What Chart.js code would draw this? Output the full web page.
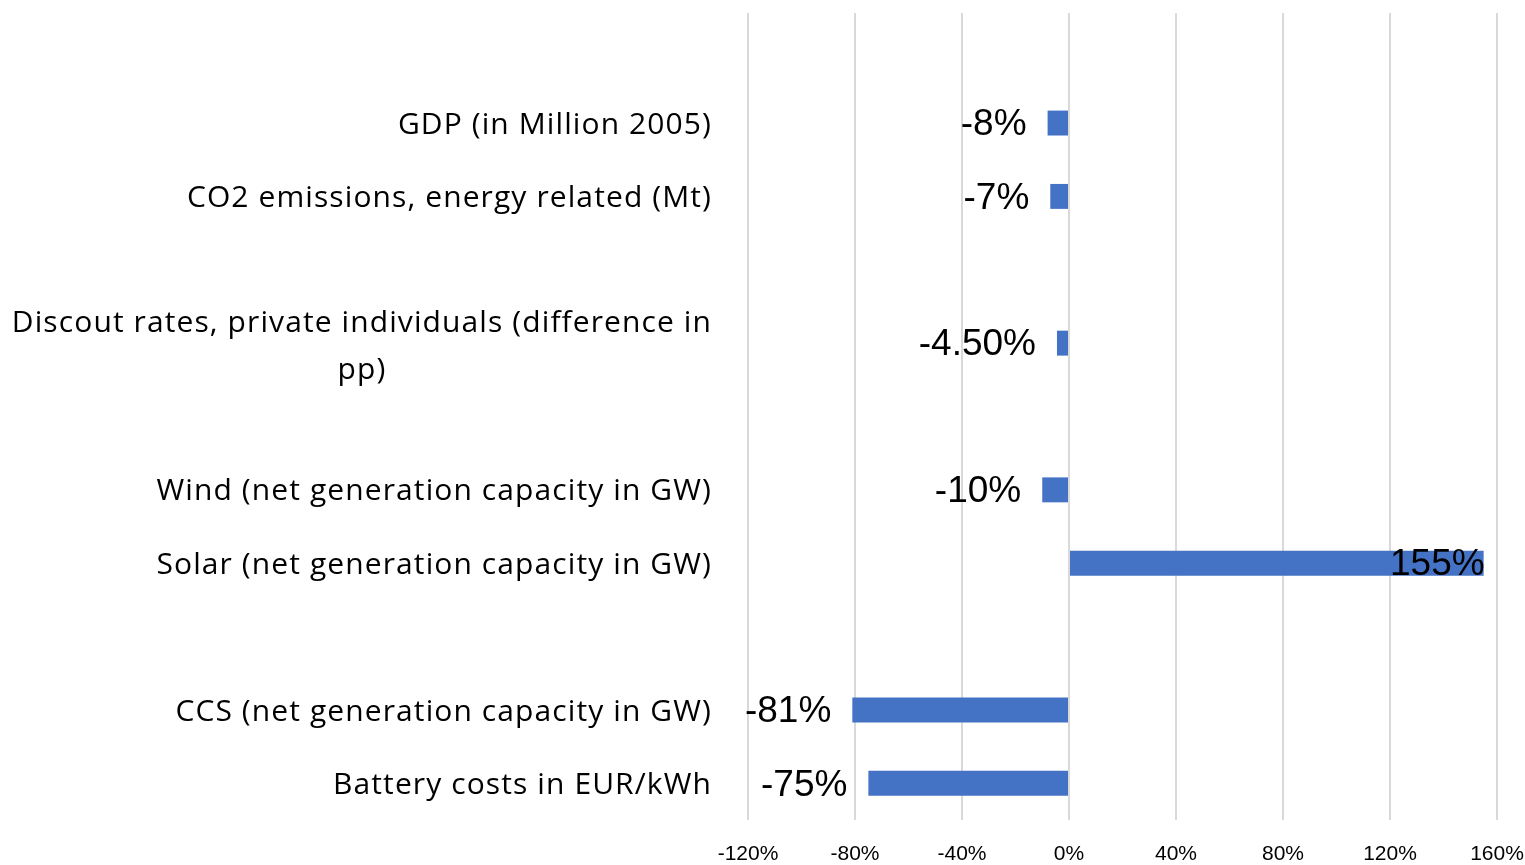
<!DOCTYPE html>
<html>
<head>
<meta charset="utf-8">
<script src="https://cdn.jsdelivr.net/npm/chart.js@4/dist/chart.umd.min.js"></script>
<style>
  html, body { margin: 0; padding: 0; background: #fff; }
  #wrap { width: 1525px; height: 865px; position: relative; }
</style>
</head>
<body>
<div id="wrap"><canvas id="myChart"></canvas></div>
<script>
// categories, top to bottom (blank entries are the gaps in the original)
var categories = [
    '',
    'GDP (in Million 2005)',
    'CO2 emissions, energy related (Mt)',
    '',
    ['Discout rates, private individuals (difference in', 'pp)'],
    '',
    'Wind (net generation capacity in GW)',
    'Solar (net generation capacity in GW)',
    '',
    'CCS (net generation capacity in GW)',
    'Battery costs in EUR/kWh'
];
var changes = [null, -8, -7, null, -4.5, null, -10, 155, null, -81, -75];
var valueLabels = ['', '-8%', '-7%', '', '-4.50%', '', '-10%', '155%', '', '-81%', '-75%'];
var tickValues = [-120, -80, -40, 0, 40, 80, 120, 160];

var labelPlugin = {
    id: 'labelPlugin',
    afterDatasetsDraw: function (chart) {
        var ctx = chart.ctx;
        var yScale = chart.scales.y;
        var area = chart.chartArea;
        ctx.save();
        // category labels
        ctx.fillStyle = '#000';
        ctx.font = '30px "Open Sans"';
        ctx.letterSpacing = '1.1px';
        ctx.textBaseline = 'middle';
        categories.forEach(function (cat, i) {
            var y = yScale.getPixelForValue(i) + 2;
            var right = area.left - 36;
            if (Array.isArray(cat)) {
                var w = ctx.measureText(cat[0]).width;
                var cx = right - w / 2;
                ctx.textAlign = 'center';
                ctx.fillText(cat[0], cx, y - 22);
                ctx.fillText(cat[1], cx, y + 25);
            } else if (cat) {
                ctx.textAlign = 'right';
                ctx.fillText(cat, right, y);
            }
        });
        // value labels
        ctx.letterSpacing = '0px';
        ctx.font = '37px "Liberation Sans", Arial';
        ctx.textAlign = 'right';
        var meta = chart.getDatasetMeta(0);
        meta.data.forEach(function (bar, i) {
            if (changes[i] === null) return;
            var x = changes[i] < 0 ? bar.x - 21 : bar.x + 1;
            ctx.fillText(valueLabels[i], x, bar.y + 2);
        });
        ctx.restore();
    }
};

var ctx = document.getElementById('myChart').getContext('2d');
var myChart = new Chart(ctx, {
    type: 'bar',
    data: {
        labels: categories,
        datasets: [{
            data: changes,
            backgroundColor: '#4472c4',
            categoryPercentage: 1,
            barPercentage: 0.34
        }]
    },
    options: {
        indexAxis: 'y',
        responsive: true,
        maintainAspectRatio: false,
        animation: false,
        layout: { padding: { top: 13, right: 28, bottom: 0, left: 0 } },
        plugins: { legend: { display: false }, tooltip: { enabled: false } },
        scales: {
            x: {
                min: -120,
                max: 160,
                afterBuildTicks: function (s) {
                    s.ticks = tickValues.map(function (v) { return { value: v }; });
                },
                afterFit: function (s) {
                    s.height = 45;
                    s.paddingLeft = 0;
                    s.paddingRight = 0;
                },
                grid: { color: '#d9d9d9', lineWidth: 2, drawTicks: false },
                border: { display: false },
                ticks: {
                    padding: 22,
                    color: '#000',
                    maxRotation: 0,
                    font: { family: '"Liberation Sans", Arial', size: 21 },
                    callback: function (v) { return v + '%'; }
                }
            },
            y: {
                afterFit: function (s) { s.width = 748; },
                grid: { display: false },
                border: { display: false },
                ticks: { display: false }
            }
        }
    },
    plugins: [labelPlugin]
});
</script>
</body>
</html>
